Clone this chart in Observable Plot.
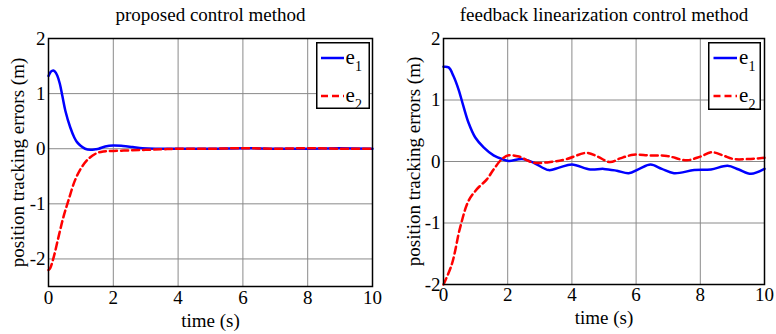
<!DOCTYPE html>
<html><head><meta charset="utf-8">
<script src="https://cdn.jsdelivr.net/npm/d3@7"></script>
<script src="https://cdn.jsdelivr.net/npm/@observablehq/plot@0.6"></script>
<style>
body{margin:0;background:#fff;}
#wrap{display:flex;width:776px;height:334px;}
.panel{position:relative;width:388px;height:334px;}
.legend{position:absolute;overflow:visible;}
svg text{font-family:"Liberation Serif","Tinos","Times New Roman","DejaVu Serif",serif !important;}
</style></head><body><div id="wrap"></div>
<script>
const xTicks = [0, 2, 4, 6, 8, 10];
const yTicks = [-2, -1, 0, 1, 2];
const seriesNames = ["e", "e"];
const seriesSubs = ["1", "2"];
const leftTitle = "proposed control method";
const rightTitle = "feedback linearization control method";
const xLabel = "time (s)";
const yLabel = "position tracking errors (m)";

// proposed control method
const leftE1Time = [0, 0.05, 0.1, 0.15, 0.2, 0.27, 0.35, 0.43, 0.52, 0.67, 0.8, 0.88, 1.0, 1.13, 1.29, 1.45, 1.55, 1.75, 2.0, 2.3, 2.6, 2.9, 3.3, 4, 5, 6, 7, 8, 9, 10];
const leftE1 = [1.32, 1.38, 1.41, 1.42, 1.40, 1.33, 1.18, 0.95, 0.69, 0.39, 0.2, 0.12, 0.05, 0.0, -0.02, -0.01, 0.0, 0.04, 0.06, 0.05, 0.03, 0.01, 0.0, 0.0, 0.0, 0.01, 0.0, 0.0, 0.01, 0.0];
const leftE2Time = [0, 0.05, 0.15, 0.31, 0.46, 0.62, 0.82, 1.03, 1.24, 1.49, 1.7, 2.0, 2.5, 3.0, 3.5, 4, 5, 6, 7, 8, 9, 10];
const leftE2 = [-2.2, -2.17, -1.99, -1.6, -1.24, -0.93, -0.57, -0.33, -0.18, -0.08, -0.05, -0.04, -0.03, -0.02, -0.01, 0.0, 0.0, 0.01, 0.0, 0.01, 0.0, 0.0];

// feedback linearization control method
const rightE1Time = [0, 0.16, 0.31, 0.47, 0.62, 0.78, 0.99, 1.25, 1.56, 1.82, 2.03, 2.45, 2.81, 3.28, 3.6, 4.0, 4.57, 4.99, 5.4, 5.77, 6.1, 6.45, 6.8, 7.18, 7.81, 8.33, 8.85, 9.2, 9.58, 10];
const rightE1 = [1.54, 1.53, 1.39, 1.17, 0.90, 0.63, 0.39, 0.23, 0.10, 0.04, 0.01, 0.04, -0.02, -0.14, -0.1, -0.05, -0.13, -0.12, -0.15, -0.19, -0.12, -0.05, -0.12, -0.19, -0.14, -0.13, -0.07, -0.13, -0.2, -0.12];
const rightE2Time = [0, 0.26, 0.52, 0.78, 1.04, 1.35, 1.56, 1.82, 2.03, 2.35, 2.81, 3.43, 3.84, 4.46, 4.8, 5.19, 5.5, 5.92, 6.4, 6.96, 7.58, 8.0, 8.36, 8.7, 9.04, 9.5, 10];
const rightE2 = [-2.0, -1.67, -1.07, -0.64, -0.45, -0.29, -0.13, 0.04, 0.10, 0.08, -0.02, 0.0, 0.04, 0.14, 0.08, -0.01, 0.05, 0.11, 0.10, 0.09, 0.02, 0.08, 0.15, 0.1, 0.04, 0.04, 0.06];

const FONT = "Liberation Serif";

function makePanel(cfg) {
  const d1 = cfg.e1t.map((t, i) => ({t, v: cfg.e1[i]}));
  const d2 = cfg.e2t.map((t, i) => ({t, v: cfg.e2[i]}));
  const grid = {stroke: "#8a8a8a", strokeOpacity: 1, strokeWidth: 1};
  const txt = {fontSize: 19, fontFamily: FONT, fill: "black"};
  return Plot.plot({
    width: 388, height: 334,
    marginLeft: cfg.ml, marginRight: cfg.mr, marginTop: 38, marginBottom: cfg.mb,
    style: {fontFamily: FONT, fontSize: "19px", color: "black", background: "white", overflow: "visible"},
    x: {domain: [0, 10], label: null},
    y: {domain: cfg.yDomain, label: null},
    marks: [
      Plot.gridX(xTicks, grid),
      Plot.gridY(yTicks, grid),
      Plot.line(d1, {x: "t", y: "v", stroke: "#0000ff", strokeWidth: 2.5, curve: "catmull-rom"}),
      Plot.line(d2, {x: "t", y: "v", stroke: "#ff0000", strokeWidth: 2.5, strokeDasharray: "7,4", curve: "catmull-rom"}),
      Plot.frame({stroke: "black", strokeWidth: 1.5}),
      Plot.axisX(xTicks, {tickSize: 0, tickPadding: cfg.xpad, label: null, ...txt}),
      Plot.axisY(yTicks, {tickSize: 0, tickPadding: 3, tickFormat: d => String(d), label: null, ...txt}),
      Plot.text([xLabel], {frameAnchor: "bottom", lineAnchor: "middle", textAnchor: "middle", dy: cfg.xdy, ...txt}),
      Plot.text([yLabel], {frameAnchor: "left", lineAnchor: "middle", textAnchor: "middle", dx: cfg.ydx, rotate: -90, ...txt}),
      Plot.text([cfg.title], {frameAnchor: "top", lineAnchor: "middle", textAnchor: "middle", dy: -23.5, ...txt})
    ]
  });
}

function makeLegend(cfg) {
  const w = cfg.w, h = cfg.h;
  const svg = d3.create("svg").attr("width", w).attr("height", h)
    .attr("class", "legend")
    .style("left", cfg.left + "px").style("top", cfg.top + "px")
    .style("font-family", FONT);
  svg.append("rect").attr("x", 0.75).attr("y", 0.75).attr("width", w - 1.5).attr("height", h - 1.5)
    .attr("fill", "white").attr("stroke", "black").attr("stroke-width", 1.5);
  const colors = ["#0000ff", "#ff0000"];
  const dashes = [null, "7,4"];
  const rowsY = [16, 54];
  seriesNames.forEach((n, i) => {
    const y = rowsY[i];
    const l = svg.append("line").attr("x1", cfg.lx1).attr("x2", cfg.lx2).attr("y1", y).attr("y2", y)
      .attr("stroke", colors[i]).attr("stroke-width", 2.5);
    if (dashes[i]) l.attr("stroke-dasharray", dashes[i]);
    svg.append("text").attr("x", cfg.tx).attr("y", y + 6).attr("font-size", 21)
      .attr("font-family", FONT).text(n);
    svg.append("text").attr("x", cfg.tx + 9.5).attr("y", y + 13).attr("font-size", 14)
      .attr("font-family", FONT).text(seriesSubs[i]);
  });
  return svg.node();
}

const wrap = document.getElementById("wrap");
const left = document.createElement("div"); left.className = "panel";
const right = document.createElement("div"); right.className = "panel";
wrap.append(left, right);

left.append(makePanel({title: leftTitle, e1t: leftE1Time, e1: leftE1, e2t: leftE2Time, e2: leftE2,
  yDomain: [-2.5, 2], ml: 48, mr: 16, mb: 48, xpad: 4, xdy: 34, ydx: -31}));
left.append(makeLegend({left: 316, top: 42, w: 54, h: 67, lx1: 5, lx2: 28, tx: 29.5}));

right.append(makePanel({title: rightTitle, e1t: rightE1Time, e1: rightE1, e2t: rightE2Time, e2: rightE2,
  yDomain: [-2, 2], ml: 55, mr: 12, mb: 50, xpad: 3, xdy: 33, ydx: -29.5}));
right.append(makeLegend({left: 320, top: 42, w: 53, h: 68, lx1: 5.5, lx2: 29, tx: 31}));
</script></body></html>
